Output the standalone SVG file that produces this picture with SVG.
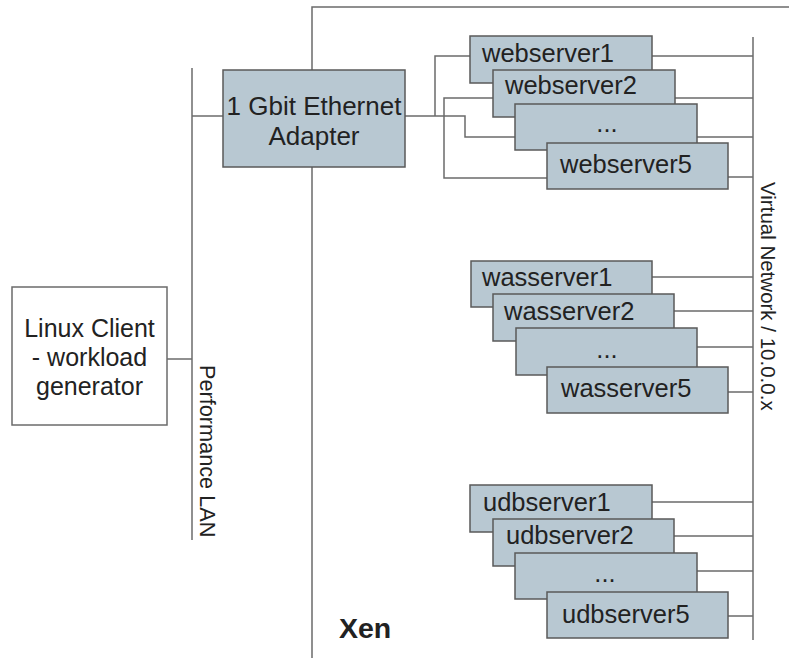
<svg xmlns="http://www.w3.org/2000/svg" width="789" height="658" viewBox="0 0 789 658">
<style>
.ln{fill:none;stroke:#6b6b6b;stroke-width:1.5}
.bx{fill:#b8c8d2;stroke:#5a5a5a;stroke-width:1.5}
.wb{fill:#ffffff;stroke:#6b6b6b;stroke-width:1.5}
.t{font-family:"Liberation Sans",Arial,sans-serif;font-size:26px;fill:#222}
.sv{font-family:"Liberation Sans",Arial,sans-serif;font-size:25.5px;fill:#222}
.tc{text-anchor:middle}
.s{font-family:"Liberation Sans",Arial,sans-serif;font-size:20px;fill:#222}
</style>
<rect width="789" height="658" fill="#ffffff"/>
<g id="xen">
<path class="ln" d="M312,658 V7 H789"/>
<text class="t" x="339" y="638" style="font-weight:bold;font-size:28.5px">Xen</text>
</g>
<g id="connectors">
<path class="ln" d="M192,68 V540"/>
<path class="ln" d="M192,116 H223"/>
<path class="ln" d="M167,359 H192"/>
<path class="ln" d="M753,37 V640"/>
<path class="ln" d="M405,116 H465 V137 H515"/>
<path class="ln" d="M435,116 V56 H470"/>
<path class="ln" d="M493,98 H444 V178 H547"/>
<path class="ln" d="M652,56 H753 M675,98 H753 M697,137 H753 M728,177 H753"/>
<path class="ln" d="M652,277 H753 M674,311 H753 M697,347 H753 M728,392 H753"/>
<path class="ln" d="M652,502 H753 M674,536 H753 M697,571 H753 M728,616 H753"/>
</g>
<g id="perf-lan"><text class="s" transform="translate(200,365) rotate(90)" style="font-size:21.7px">Performance LAN</text></g>
<g id="virtual-network"><text class="s" transform="translate(761,182) rotate(90)" style="font-size:20.5px">Virtual Network / 10.0.0.x</text></g>
<g id="linux-client">
<rect class="wb" x="12" y="287" width="155" height="138"/>
<text class="t tc" x="89.5" y="337" style="font-size:25px">Linux Client</text>
<text class="t tc" x="89.5" y="366" style="font-size:25px">- workload</text>
<text class="t tc" x="89.5" y="395" style="font-size:25px">generator</text>
</g>
<g id="ethernet">
<rect class="bx" x="223" y="70" width="182" height="97"/>
<text class="t tc" x="314" y="115">1 Gbit Ethernet</text>
<text class="t tc" x="314" y="145">Adapter</text>
</g>
<g id="webserver1"><rect class="bx" x="470" y="36" width="182" height="47"/><text class="sv" x="482" y="62">webserver1</text></g>
<g id="webserver2"><rect class="bx" x="493" y="70" width="182" height="47"/><text class="sv" x="505" y="94">webserver2</text></g>
<g id="webserver-dots"><rect class="bx" x="515" y="104" width="182" height="46"/><text class="sv tc" x="607" y="132">...</text></g>
<g id="webserver5"><rect class="bx" x="547" y="143" width="181" height="46"/><text class="sv" x="560" y="173">webserver5</text></g>
<g id="wasserver1"><rect class="bx" x="471" y="261" width="181" height="46"/><text class="sv" x="482" y="286">wasserver1</text></g>
<g id="wasserver2"><rect class="bx" x="493" y="294" width="181" height="47"/><text class="sv" x="504" y="320">wasserver2</text></g>
<g id="wasserver-dots"><rect class="bx" x="516" y="328" width="181" height="47"/><text class="sv tc" x="607" y="358">...</text></g>
<g id="wasserver5"><rect class="bx" x="547" y="367" width="181" height="46"/><text class="sv" x="561" y="397">wasserver5</text></g>
<g id="udbserver1"><rect class="bx" x="470" y="485" width="182" height="47"/><text class="sv" x="483" y="511">udbserver1</text></g>
<g id="udbserver2"><rect class="bx" x="493" y="519" width="181" height="47"/><text class="sv" x="506" y="544">udbserver2</text></g>
<g id="udbserver-dots"><rect class="bx" x="515" y="553" width="182" height="46"/><text class="sv tc" x="605" y="582">...</text></g>
<g id="udbserver5"><rect class="bx" x="547" y="592" width="181" height="46"/><text class="sv" x="562" y="623">udbserver5</text></g>
</svg>
